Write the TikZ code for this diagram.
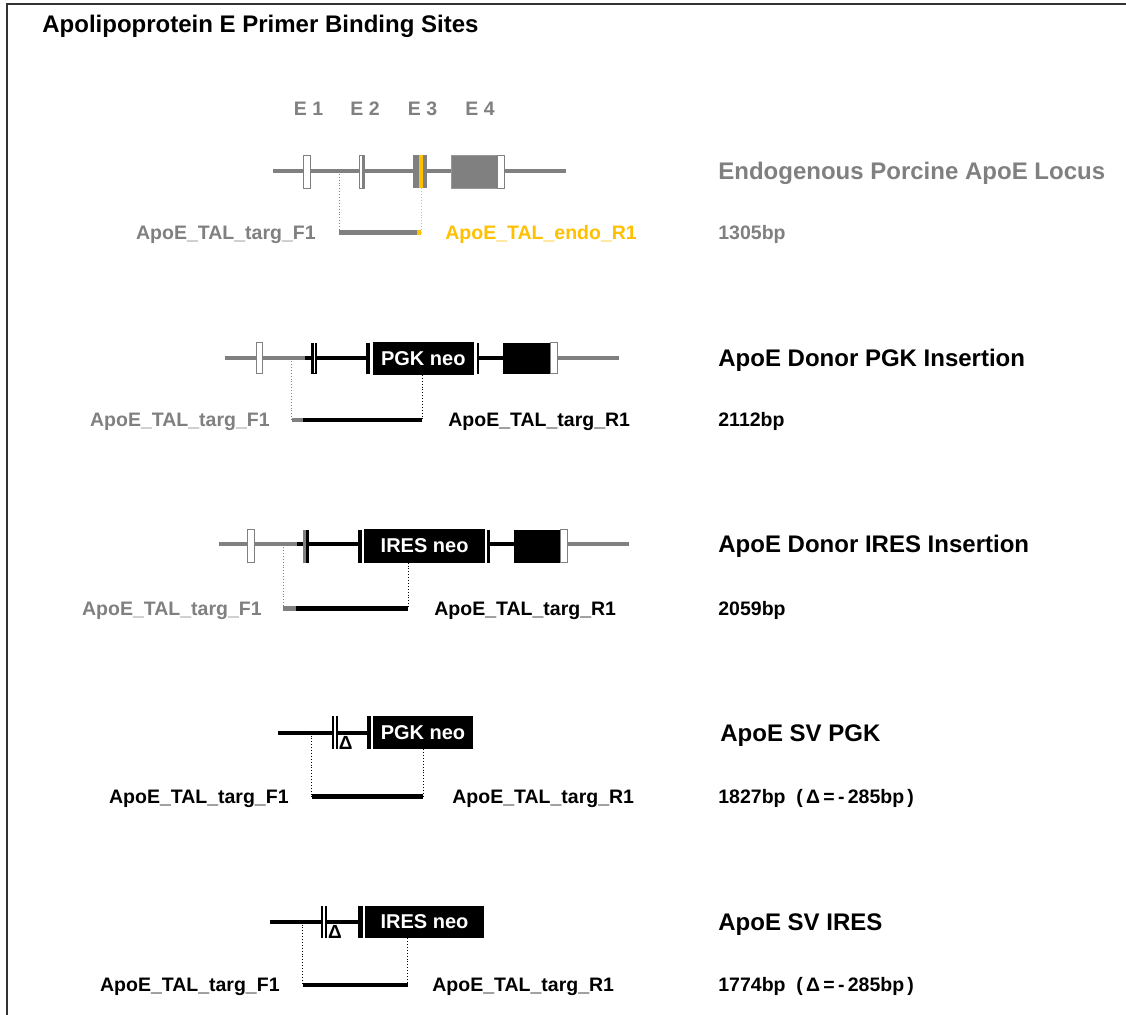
\documentclass[tikz,border=0pt]{standalone}
\usepackage{fontspec}
\setmainfont{Liberation Sans}
\definecolor{gr}{HTML}{808080}
\definecolor{orng}{HTML}{FFC000}
\begin{document}
\begin{tikzpicture}[x=0.5pt,y=-0.5pt,
  gline/.style={gr, line width=2pt},
  bline/.style={black, line width=2pt},
  amp/.style={line width=2.3pt},
  dotl/.style={densely dotted, line width=0.45pt},
  lab/.style={font=\fontsize{9.75}{11}\selectfont\bfseries, inner sep=0pt},
  ttl/.style={font=\fontsize{12}{14}\selectfont\bfseries, inner sep=0pt},
  neotxt/.style={font=\fontsize{10}{12}\selectfont\bfseries, text=white, inner sep=0pt},
  exw/.style={fill=white, draw=gr, line width=0.5pt},
  exg/.style={fill=gr, draw=gr!80, line width=0.5pt},
  exb/.style={fill=black},
  del/.style={font=\fontsize{9.5}{11}\selectfont\bfseries, inner sep=0pt}
]
\useasboundingbox (0,0) rectangle (1126,1015);
\fill[white] (0,0) rectangle (1126,1015);
% frame
\draw[line width=1pt, black!80] (7,1015) -- (7,4) -- (1126,4);
% title
\node[ttl, anchor=base west] (title) at (42,33) {Apolipoprotein E Primer Binding Sites};

% ================= Row 1: endogenous =================
\node[lab, text=gr, anchor=base] (e1) at (308.5,116) {E 1};
\node[lab, text=gr, anchor=base] (e2) at (365,116) {E 2};
\node[lab, text=gr, anchor=base] (e3) at (422.5,116) {E 3};
\node[lab, text=gr, anchor=base] (e4) at (480,116) {E 4};
\coordinate (r1a) at (273,171);
\coordinate (r1b) at (566,171);
\draw[gline] (r1a) -- (r1b);
\draw[exw] (303,155.5) rectangle (310,188.5);
\draw[exw] (359,155.5) rectangle (364.5,188.5);
\fill[gr] (361.8,155.5) rectangle (364.5,188.5);
\fill[gr] (413.3,155.5) rectangle (426.7,188.5);
\fill[orng] (419.3,155.5) rectangle (423.3,188.5);
\draw[exg] (451.7,155.5) rectangle (497.3,188.5);
\draw[exw] (497.3,155.5) rectangle (504.3,188.5);
\coordinate (r1f) at (339.3,171);
\coordinate (r1fb) at (339.3,232.7);
\coordinate (r1r) at (421,188.5);
\coordinate (r1rb) at (421,232.7);
\coordinate (r1m) at (416.5,232.7);
\draw[dotl, gr] (r1f) -- (r1fb);
\draw[dotl, orng] (r1r) -- (r1rb);
\draw[amp, gr] (r1fb) -- (r1m);
\draw[amp, orng] (r1m) -- (r1rb);
\node[lab, text=gr, anchor=base east] (r1fl) at (316,239.7) {ApoE\_TAL\_targ\_F1};
\node[lab, text=orng, anchor=base west] (r1rl) at (445,239.7) {ApoE\_TAL\_endo\_R1};
\node[lab, text=gr, anchor=base west] (r1bp) at (718,239.7) {1305bp};
\node[ttl, text=gr, anchor=base west] (r1t) at (718,179.6) {Endogenous Porcine ApoE Locus};

% ================= Row 2: PGK insertion =================
\draw[gline] (225,358.3) -- (305,358.3);
\draw[bline] (305,358.3) -- (367,358.3);
\draw[bline] (479,358.3) -- (504,358.3);
\draw[gline] (557,358.3) -- (619.3,358.3);
\draw[exw] (256,342.7) rectangle (262.3,374);
\fill[black] (311,342.7) rectangle (317.3,374);
\fill[white] (313.8,343.5) rectangle (314.8,373.2);
\fill[black] (366,342.7) rectangle (370,374);
\fill[black] (372.7,341.7) rectangle (474,375);
\node[neotxt] (pgk2) at (423.3,358.3) {PGK neo};
\fill[black] (476.7,342.7) rectangle (479.3,374);
\fill[black] (503.3,343) rectangle (550,374);
\draw[exw] (550,343) rectangle (557.3,374);
\coordinate (r2f) at (291.7,358.3);
\coordinate (r2fb) at (291.7,420);
\coordinate (r2r) at (422,375);
\coordinate (r2rb) at (422,420);
\coordinate (r2m) at (303,420);
\draw[dotl, gr] (r2f) -- (r2fb);
\draw[dotl, black] (r2r) -- (r2rb);
\draw[amp, gr] (r2fb) -- (r2m);
\draw[amp, black] (r2m) -- (r2rb);
\node[lab, text=gr, anchor=base east] (r2fl) at (270,427) {ApoE\_TAL\_targ\_F1};
\node[lab, anchor=base west] (r2rl) at (448,427) {ApoE\_TAL\_targ\_R1};
\node[lab, anchor=base west] (r2bp) at (718,427) {2112bp};
\node[ttl, anchor=base west] (r2t) at (718,367) {ApoE Donor PGK Insertion};

% ================= Row 3: IRES insertion =================
\draw[gline] (219.3,544.3) -- (297,544.3);
\draw[bline] (297,544.3) -- (358,544.3);
\draw[bline] (490,544.3) -- (515,544.3);
\draw[gline] (567,544.3) -- (629,544.3);
\draw[exw] (247.7,530) rectangle (254,562.7);
\fill[gr] (303.3,530) rectangle (305.9,562.7);
\fill[black] (305.9,530) rectangle (309.3,562.7);
\fill[black] (357.7,530) rectangle (362.3,562.7);
\fill[black] (364.3,529.3) rectangle (485,562.7);
\node[neotxt] (ires3) at (424.6,546) {IRES neo};
\fill[black] (487.3,530) rectangle (490,562.7);
\fill[black] (514.3,530) rectangle (560,562.7);
\draw[exw] (560,530) rectangle (567.7,562.7);
\coordinate (r3f) at (283.3,544.3);
\coordinate (r3fb) at (283.3,608.3);
\coordinate (r3r) at (408,562.7);
\coordinate (r3rb) at (408,608.3);
\coordinate (r3m) at (296,608.3);
\draw[dotl, gr] (r3f) -- (r3fb);
\draw[dotl, black] (r3r) -- (r3rb);
\draw[amp, gr] (r3fb) -- (r3m);
\draw[amp, black] (r3m) -- (r3rb);
\node[lab, text=gr, anchor=base east] (r3fl) at (262,615.3) {ApoE\_TAL\_targ\_F1};
\node[lab, anchor=base west] (r3rl) at (434,615.3) {ApoE\_TAL\_targ\_R1};
\node[lab, anchor=base west] (r3bp) at (718,615.3) {2059bp};
\node[ttl, anchor=base west] (r3t) at (718,553) {ApoE Donor IRES Insertion};

% ================= Row 4: SV PGK =================
\draw[bline] (278.3,732.7) -- (332,732.7);
\draw[bline] (338,732.7) -- (367,732.7);
\fill[black] (331.7,716) rectangle (334,749.3);
\fill[black] (336.2,716) rectangle (338.4,749.3);
\node[del, anchor=base] (d4) at (345.8,750) {Δ};
\fill[black] (366.7,716) rectangle (371,749.3);
\fill[black] (373.3,716) rectangle (472.7,749.3);
\node[neotxt] (pgk4) at (423,733) {PGK neo};
\coordinate (r4f) at (311.7,732.7);
\coordinate (r4fb) at (311.7,796.7);
\coordinate (r4r) at (423.3,749.3);
\coordinate (r4rb) at (423.3,796.7);
\draw[dotl] (r4f) -- (r4fb);
\draw[dotl] (r4r) -- (r4rb);
\draw[amp] (r4fb) -- (r4rb);
\node[lab, anchor=base east] (r4fl) at (289,803.7) {ApoE\_TAL\_targ\_F1};
\node[lab, anchor=base west] (r4rl) at (452,803.7) {ApoE\_TAL\_targ\_R1};
\node[lab, anchor=base west] (r4bp) at (718,803.7) {1827bp\ \ (\,Δ\,=\,-\,285bp\,)};
\node[ttl, anchor=base west] (r4t) at (720,742) {ApoE SV PGK};

% ================= Row 5: SV IRES =================
\draw[bline] (270,921.7) -- (321.5,921.7);
\draw[bline] (327,921.7) -- (359,921.7);
\fill[black] (321,906) rectangle (323.2,938.3);
\fill[black] (325.2,906) rectangle (327.4,938.3);
\node[del, anchor=base] (d5) at (335,939) {Δ};
\fill[black] (358.3,906) rectangle (362.7,938.3);
\fill[black] (365,906) rectangle (484,938.3);
\node[neotxt] (ires5) at (424.5,922) {IRES neo};
\coordinate (r5f) at (302.7,921.7);
\coordinate (r5fb) at (302.7,985);
\coordinate (r5r) at (407.7,938.3);
\coordinate (r5rb) at (407.7,985);
\draw[dotl] (r5f) -- (r5fb);
\draw[dotl] (r5r) -- (r5rb);
\draw[amp] (r5fb) -- (r5rb);
\node[lab, anchor=base east] (r5fl) at (280,992) {ApoE\_TAL\_targ\_F1};
\node[lab, anchor=base west] (r5rl) at (432,992) {ApoE\_TAL\_targ\_R1};
\node[lab, anchor=base west] (r5bp) at (718,992) {1774bp\ \ (\,Δ\,=\,-\,285bp\,)};
\node[ttl, anchor=base west] (r5t) at (718,930.3) {ApoE SV IRES};
\end{tikzpicture}
\end{document}
